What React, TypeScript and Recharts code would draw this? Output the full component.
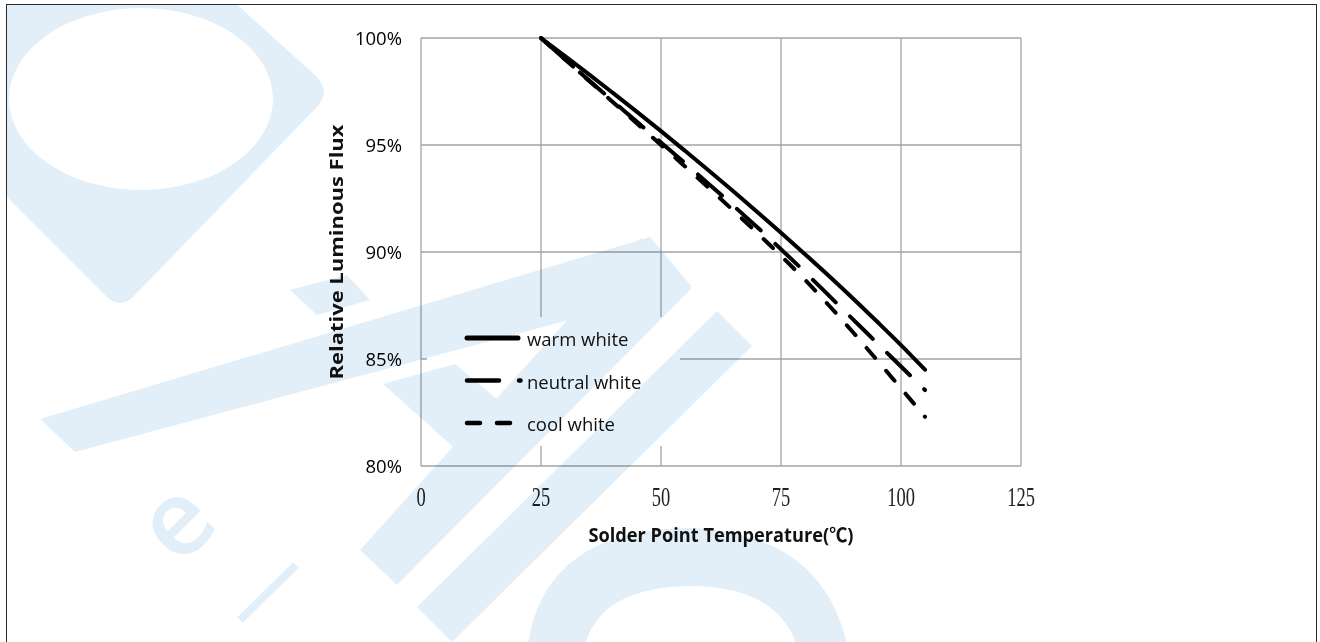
import { CartesianGrid, Label, Legend, Line, LineChart, XAxis, YAxis } from 'recharts';

// solder point temperature (°C)
const temps = [25, 30, 35, 40, 45, 50, 55, 60, 65, 70, 75, 80, 85, 90, 95, 100, 105];

// relative luminous flux (%)
const warmWhite = [100, 99.15, 98.3, 97.43, 96.55, 95.65, 94.73, 93.8, 92.85, 91.88, 90.9, 89.9, 88.88, 87.83, 86.75, 85.65, 84.5];
const neutralWhite = [100, 99.0, 98.02, 97.05, 96.08, 95.12, 94.15, 93.17, 92.18, 91.17, 90.13, 89.06, 87.96, 86.85, 85.75, 84.65, 83.55];
const coolWhite = [100, 99.0, 98.0, 97.0, 96.0, 95.0, 94.0, 92.98, 91.95, 90.9, 89.82, 88.7, 87.5, 86.25, 84.95, 83.63, 82.3];

const xTicks = [0, 25, 50, 75, 100, 125];
const yTicks = [80, 85, 90, 95, 100];

const series = [
  { key: 'warm', name: 'warm white', dash: undefined as string | undefined },
  { key: 'neutral', name: 'neutral white', dash: '32 20' },
  { key: 'cool', name: 'cool white', dash: '13 17' },
];

const rows = temps.map((t, i) => ({
  t,
  warm: warmWhite[i],
  neutral: neutralWhite[i],
  cool: coolWhite[i],
}));

const SANS = "'Open Sans', 'Noto Sans', sans-serif";
// Open Sans has no ℃, so the CJK face supplies the wide degree-Celsius glyph
const TITLE_FONT = "'Open Sans', 'Noto Sans CJK SC', sans-serif";
const WM = '#e2eff8';

function XTick({ x, y, payload }: any) {
  return (
    <text
      transform={`translate(${x},${y + 40}) scale(0.66,1)`}
      textAnchor="middle"
      fontFamily="'Liberation Serif', serif"
      fontSize={28}
      fill="#222"
    >
      {payload.value}
    </text>
  );
}

function LegendBox() {
  return (
    <svg width={253} height={129} style={{ display: 'block' }}>
      {series.map((s, i) => {
        const cy = 21 + i * 42.5;
        return (
          <g key={s.key}>
            <line
              x1={40}
              x2={i === 1 ? 93.5 : 91}
              y1={cy}
              y2={cy}
              stroke="#000"
              strokeWidth={i === 0 ? 5 : 4.5}
              strokeLinecap="round"
              strokeDasharray={s.dash}
            />
            <text x={100} y={cy + 8} fontFamily={SANS} fontSize={18.5} fill="#111">
              {s.name}
            </text>
          </g>
        );
      })}
    </svg>
  );
}

// faint logo behind the whole sheet
function Watermark() {
  return (
    <svg
      width={1320}
      height={642}
      style={{ position: 'absolute', left: 0, top: 0, pointerEvents: 'none', mixBlendMode: 'multiply' }}
    >
      <defs>
        <clipPath id="sheet">
          <rect x={7} y={5} width={1309} height={660} />
        </clipPath>
      </defs>
      <g clipPath="url(#sheet)" fill={WM}>
        <path
          fillRule="evenodd"
          d="M0 0 L232 0 L316 76 Q332 92 316 108 L134 296 Q120 310 106 296 L0 190 Z M9 99 A132 91 0 1 0 273 99 A132 91 0 1 0 9 99 Z"
        />
        <path d="M290 290 L347 275 L370 300 L317 315 Z" />
        <path d="M383 384 L455 364 L522 420 L470 462 Z" />
        <path d="M40 419 L650 237 L692 287 L75 452 Z" />
        <path d="M360 550 L641 238 L691 289 L397 585 Z" />
        <path d="M417 607 L717 311 L752 346 L452 642 Z" />
        <path d="M526 660 Q536 530 688 528 Q830 532 850 660 L800 660 Q788 586 688 586 Q590 588 582 660 Z" />
        <line x1={240} y1={620} x2={296} y2={565} stroke={WM} strokeWidth={8} />
        <text
          x={0}
          y={0}
          transform="translate(172,518) rotate(-45)"
          textAnchor="middle"
          dominantBaseline="central"
          fontFamily={SANS}
          fontWeight={600}
          fontSize={105}
          fill={WM}
        >
          e
        </text>
      </g>
    </svg>
  );
}

export default function App() {
  return (
    <div style={{ position: 'absolute', left: 0, top: 0, width: 1320, height: 642, background: '#fff', overflow: 'hidden' }}>
      <LineChart
        width={1320}
        height={642}
        data={rows}
        margin={{ top: 38, right: 299, bottom: 146, left: 361 }}
      >
        <CartesianGrid stroke="#a3a3a3" strokeWidth={1.3} />
        <XAxis
          dataKey="t"
          type="number"
          domain={[0, 125]}
          ticks={xTicks}
          height={30}
          axisLine={false}
          tickLine={false}
          tickSize={0}
          tickMargin={0}
          tick={<XTick />}
        >
          <Label
            content={({ viewBox }: any) => (
              <text
                x={viewBox.x + viewBox.width / 2}
                y={viewBox.y + 76}
                textAnchor="middle"
                fontFamily={TITLE_FONT}
                fontWeight={700}
                fontSize={19}
                textLength={265}
                lengthAdjust="spacingAndGlyphs"
                fill="#111"
              >
                Solder Point Temperature(℃)
              </text>
            )}
          />
        </XAxis>
        <YAxis
          type="number"
          domain={[80, 100]}
          ticks={yTicks}
          width={60}
          axisLine={false}
          tickLine={false}
          tickSize={0}
          tickMargin={19}
          tickFormatter={(v: number) => `${v}%`}
          tick={{ fill: '#000', fontSize: 18.5, fontFamily: SANS }}
        >
          <Label
            content={({ viewBox }: any) => {
              const cx = viewBox.x - 18;
              const cy = viewBox.y + viewBox.height / 2;
              return (
                <text
                  x={cx}
                  y={cy}
                  transform={`rotate(-90 ${cx} ${cy})`}
                  textAnchor="middle"
                  fontFamily={SANS}
                  fontWeight={700}
                  fontSize={18}
                  textLength={255}
                  lengthAdjust="spacingAndGlyphs"
                  fill="#111"
                >
                  Relative Luminous Flux
                </text>
              );
            }}
          />
        </YAxis>
        <Legend
          layout="horizontal"
          verticalAlign="middle"
          align="center"
          content={() => <LegendBox />}
          wrapperStyle={{ position: 'absolute', left: 427, top: 317, width: 253, height: 129, background: '#fff' }}
        />
        {series.map((s) => (
          <Line
            key={s.key}
            dataKey={s.key}
            name={s.name}
            type="monotone"
            stroke="#000"
            strokeWidth={4}
            strokeLinecap="round"
            strokeDasharray={s.dash}
            dot={false}
            activeDot={false}
            isAnimationActive={false}
          />
        ))}
      </LineChart>
      <Watermark />
      <div
        style={{
          position: 'absolute',
          left: 6,
          top: 4,
          width: 1309,
          height: 700,
          border: '1.5px solid #2a2a2a',
          pointerEvents: 'none',
        }}
      />
    </div>
  );
}
